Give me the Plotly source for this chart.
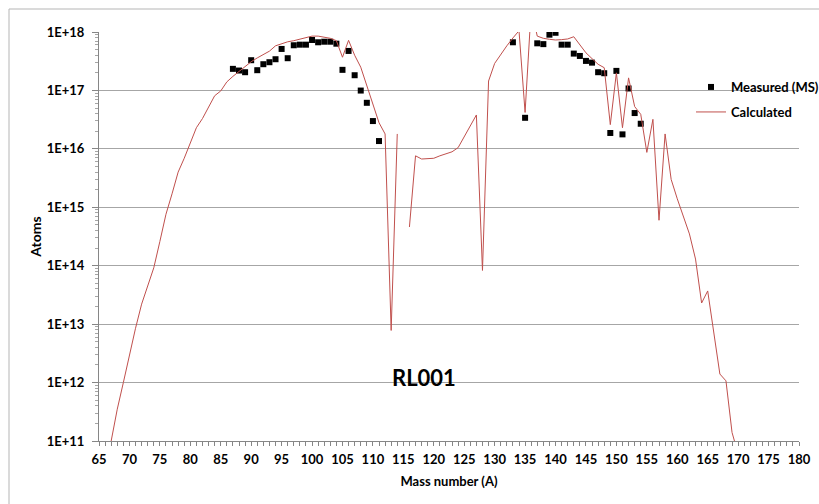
import plotly.graph_objects as go

# ---- data ----
meas_A = [87, 88, 89, 90, 91, 92, 93, 94, 95, 96, 97, 98, 99, 100, 101, 102, 103, 104,
          105, 106, 107, 108, 109, 110, 111,
          133, 135, 137, 138, 139, 140, 141, 142, 143, 144, 145, 146, 147, 148, 149,
          150, 151, 152, 153, 154]
meas_atoms = [2.34e17, 2.19e17, 2.05e17, 3.29e17, 2.22e17, 2.81e17, 3.04e17, 3.42e17,
              5.13e17, 3.56e17, 5.93e17, 6.07e17, 6.07e17, 7.3e17, 6.67e17, 6.82e17,
              6.82e17, 6.31e17, 2.25e17, 4.74e17, 1.82e17, 9.95e16, 6.14e16, 2.99e16,
              1.36e16,
              6.67e17, 3.4e16, 6.4e17, 6.2e17, 9.0e17, 9.7e17, 6.07e17, 6.07e17, 4.27e17,
              3.89e17, 3.2e17, 2.99e17, 2.05e17, 1.97e17, 1.87e16, 2.16e17, 1.77e16,
              1.08e17, 4.1e16, 2.69e16]

calc_A = list(range(67, 171))
calc_atoms = [
    1.0e11, 3.5e11, 1.0e12, 3.1e12, 8.5e12, 2.2e13, 4.7e13, 9.2e13, 2.6e14, 7.6e14,   # 67-76
    1.7e15, 4.0e15, 6.9e15, 1.26e16, 2.3e16, 3.3e16, 5.3e16, 8.1e16, 9.8e16, 1.4e17,  # 77-86
    1.74e17, 2.1e17, 2.5e17, 3.1e17, 3.6e17, 4.1e17, 4.7e17, 5.8e17, 6.3e17, 6.8e17,  # 87-96
    7.1e17, 7.6e17, 8.1e17, 8.5e17, 8.5e17, 8.1e17, 7.8e17, 7.1e17, 3.7e17, 7.2e17,   # 97-106
    4.0e17, 2.5e17, 1.2e17, 5.7e16, 2.8e16, 1.8e16, 7.8e12, 1.8e16, None, 4.6e14,     # 107-116
    7.6e15, 6.7e15, 6.7e15, 6.9e15, 7.6e15, 8.1e15, 8.9e15, 1.05e16, 1.6e16, 2.5e16,  # 117-126
    3.8e16, 8.3e13, 1.45e17, 2.9e17, 4.2e17, 5.8e17, 7.9e17, 1.05e18, 4.2e16, 2.5e18, # 127-136
    8.5e17, 7.8e17, 7.5e17, 7.3e17, 7.4e17, 7.6e17, 8.3e17, 6.0e17, 4.4e17, 3.5e17,   # 137-146
    2.8e17, 2.45e17, 2.6e16, 2.0e17, 2.3e16, 1.64e17, 5.3e16, 3.9e16, 8.7e15, 3.2e16, # 147-156
    6.0e14, 1.8e16, 3.0e15, 1.4e15, 7.3e14, 3.5e14, 1.3e14, 2.3e13, 3.7e13, 6.6e12,   # 157-166
    1.4e12, 1.07e12, 1.4e11, 6.0e10,                                                   # 167-170
]

y_tick_vals = [1e11, 1e12, 1e13, 1e14, 1e15, 1e16, 1e17, 1e18]
y_tick_text = ["1E+11", "1E+12", "1E+13", "1E+14", "1E+15", "1E+16", "1E+17", "1E+18"]
y_minor_vals = [k * 10 ** e for e in range(11, 18) for k in range(2, 10)]

FONT = "Lato"
W, H = 819, 504
L, R, T, B = 99, 20, 32, 63
PW, PH = W - L - R, H - T - B


def px_x(p):
    return (p - L) / PW


def px_y(p):
    return 1 - (p - T) / PH


fig = go.Figure()
fig.add_trace(go.Scatter(
    x=meas_A, y=meas_atoms, mode="markers", name="Measured (MS)",
    marker=dict(symbol="square", size=6, color="black"),
    legend="legend", showlegend=True,
))
fig.add_trace(go.Scatter(
    x=calc_A, y=calc_atoms, mode="lines", name="Calculated",
    line=dict(color="#C0504D", width=1), connectgaps=False,
    legend="legend2", showlegend=True,
))

legend_font = dict(family=FONT, size=13, color="black", weight="bold")
fig.update_layout(
    width=W, height=H, autosize=False, showlegend=True,
    margin=dict(l=L, r=R, t=T, b=B, pad=0, autoexpand=False),
    paper_bgcolor="white", plot_bgcolor="white",
    font=dict(family=FONT, size=12, color="black"),
    legend=dict(x=px_x(691), y=px_y(87), xanchor="left", yanchor="middle",
                bgcolor="rgba(0,0,0,0)", font=legend_font, itemwidth=30),
    legend2=dict(x=px_x(691), y=px_y(112), xanchor="left", yanchor="middle",
                 bgcolor="rgba(0,0,0,0)", font=legend_font, itemwidth=30),
    xaxis=dict(
        range=[65, 180], tick0=65, dtick=5, showgrid=False, zeroline=False,
        showline=True, linecolor="#868686", linewidth=1,
        ticks="outside", ticklen=4, tickcolor="#868686", ticklabelstandoff=2,
        minor=dict(dtick=1, ticks="outside", ticklen=4, tickcolor="#868686", showgrid=False),
        tickfont=dict(family=FONT, size=13, color="black", weight="bold"),
        title=dict(text="Mass number (A)", standoff=11,
                   font=dict(family=FONT, size=13, color="black", weight="bold")),
        automargin=False,
    ),
    yaxis=dict(
        type="log", range=[11, 18], tickmode="array",
        tickvals=y_tick_vals, ticktext=y_tick_text,
        showgrid=True, gridcolor="#a6a6a6", gridwidth=1, zeroline=False,
        showline=True, linecolor="#868686", linewidth=1,
        ticks="outside", ticklen=6, tickcolor="#868686", ticklabelstandoff=5,
        minor=dict(tickmode="array", tickvals=y_minor_vals, ticks="outside",
                   ticklen=3, tickcolor="#a6a6a6", showgrid=False),
        tickfont=dict(family=FONT, size=13, color="black", weight="bold"),
        title=dict(text="Atoms", standoff=1,
                   font=dict(family=FONT, size=14, color="black", weight="bold")),
        automargin=False,
    ),
    annotations=[dict(
        text="RL001", xref="paper", yref="paper", x=px_x(424), y=px_y(377),
        showarrow=False, xanchor="center", yanchor="middle",
        font=dict(family=FONT, size=22, color="black", weight="bold"),
    )],
    shapes=[
        dict(type="line", xref="paper", yref="paper", x0=px_x(9), x1=px_x(830),
             y0=px_y(9), y1=px_y(9), line=dict(color="#b5b5b5", width=1)),
        dict(type="line", xref="paper", yref="paper", x0=px_x(9), x1=px_x(9),
             y0=px_y(9), y1=px_y(520), line=dict(color="#b5b5b5", width=1)),
    ],
)

fig.write_html("out.html")
